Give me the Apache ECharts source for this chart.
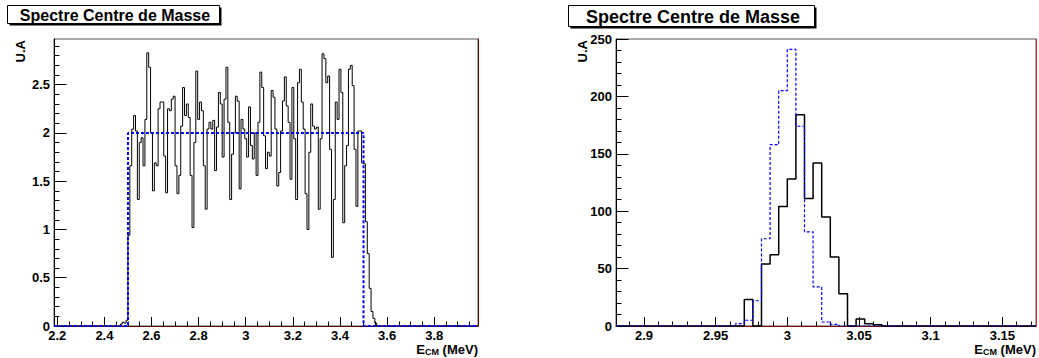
<!DOCTYPE html>
<html><head><meta charset="utf-8">
<script src="https://cdn.jsdelivr.net/npm/echarts@6/dist/echarts.min.js"></script>
<style>html,body{margin:0;padding:0;background:#fff}#c{width:1039px;height:358px}</style>
</head><body><div id="c"></div>
<script>
// ---------- texts ----------
const titleText = 'Spectre Centre de Masse';
const yTitle = 'U.A';
const xTitleRich = '{e|E}{s|CM}{e| (MeV)}';

// ---------- left panel ----------
const leftXRange = [2.186, 3.986];
const leftYMax = 2.973;
const leftXTicks = [2.2, 2.4, 2.6, 2.8, 3, 3.2, 3.4, 3.6, 3.8];
const leftYTicks = [0, 0.5, 1, 1.5, 2, 2.5];
const leftBinStart = 2.468;
const leftBinWidth = 0.008;
const leftCounts = [
  0.02, 0.04, 0.03, 0.06,
  0.94, 1.66, 2.04, 2.18, 2.02, 1.31, 1.90, 1.95, 1.66, 2.14,
  2.83, 2.68, 2.00, 1.40, 1.69, 1.66, 2.25, 2.32, 2.32, 1.76,
  1.38, 2.25, 2.23, 2.35, 2.38, 1.66, 1.37, 1.56, 2.07, 2.47,
  2.18, 2.30, 2.16, 1.56, 1.02, 1.90, 2.64, 2.14, 2.32, 2.23,
  1.66, 1.21, 2.04, 2.11, 2.04, 2.13, 1.61, 2.06, 2.42, 2.30,
  1.75, 2.35, 2.68, 2.11, 1.31, 1.78, 2.00, 2.38, 2.33,
  1.42, 2.14, 2.04, 1.94, 1.75, 2.27, 1.87, 1.73, 2.00, 1.56,
  2.11, 2.63, 2.47, 1.97, 1.63, 1.80, 1.76, 2.44, 2.37, 2.04,
  1.45, 1.59, 2.02, 2.33, 2.58, 2.28, 2.11, 1.52, 2.47, 1.94,
  1.31, 2.52, 2.66, 2.32, 2.04, 1.37, 1.00, 1.80, 2.30, 2.07,
  2.04, 2.06, 1.21, 1.94, 2.82, 2.77, 2.52, 2.59, 1.83, 0.71,
  1.31, 2.32, 2.14, 2.66, 2.42, 1.07, 1.66, 1.87, 2.66, 2.70,
  2.49, 1.83, 1.24, 2.02, 2.02, 1.69,
  1.68, 1.08, 0.75, 0.39, 0.15, 0.08, 0.03
];
const leftBlueEdges = [2.5, 3.5];
const leftBlueLevel = 2;

// ---------- right panel ----------
const rightXRange = [2.8805, 3.1735];
const rightYMax = 250;
const rightXTicks = [2.9, 2.95, 3, 3.05, 3.1, 3.15];
const rightYTicks = [0, 50, 100, 150, 200, 250];
const rightBinWidth = 0.006;
const rightBlackStart = 2.970;
const rightBlack = [23, 0, 54, 62, 104, 128, 184, 111, 142, 95, 60, 28, 0, 6, 2, 1];
const rightBlueStart = 2.964;
const rightBlue = [2, 5, 22, 76, 158, 205, 241, 174, 82, 34, 3.5, 1.5];

// ---------- helpers ----------
function r(v) { return Math.round(v * 1e6) / 1e6; }
function stepPoints(start, w, counts, range) {
  const pts = [[range[0], 0], [start, 0]];
  counts.forEach((c, i) => {
    const x0 = r(start + i * w), x1 = r(start + (i + 1) * w);
    pts.push([x0, c], [x1, c]);
  });
  pts.push([r(start + counts.length * w), 0], [range[1], 0]);
  return pts;
}
function minorValues(range, step, majors) {
  const out = [];
  const k0 = Math.ceil(range[0] / step - 1e-9), k1 = Math.floor(range[1] / step + 1e-9);
  for (let k = k0; k <= k1; k++) {
    const v = r(k * step);
    if (!majors.some(m => Math.abs(m - v) < step / 10) && v > range[0] && v < range[1]) out.push(v);
  }
  return out;
}
const FONT = 'Liberation Sans';
const lbl = { fontSize: 13, fontWeight: 'bold', color: '#000', fontFamily: FONT, lineHeight: 13 };

function xMajor(grid, range, ticks, lineColor) {
  return {
    type: 'value', gridIndex: grid, min: range[0], max: range[1], position: 'bottom',
    axisLine: { show: true, onZero: false, lineStyle: { color: lineColor, width: 1 } },
    axisTick: { show: true, inside: true, length: 9, customValues: ticks, lineStyle: { color: '#000', width: 1 } },
    axisLabel: Object.assign({ customValues: ticks, margin: 3 }, lbl),
    splitLine: { show: false },
    name: xTitleRich, nameLocation: 'end', nameGap: 0, nameMoveOverlap: false,
    nameTextStyle: {
      align: 'right', verticalAlign: 'top', padding: [17, 0, 0, 0],
      rich: {
        e: { fontSize: 13, fontWeight: 'bold', fontFamily: FONT, color: '#000', lineHeight: 13 },
        s: { fontSize: 9, fontWeight: 'bold', fontFamily: FONT, color: '#000', lineHeight: 8, verticalAlign: 'bottom' }
      }
    }
  };
}
function xMinor(grid, range, vals) {
  return {
    type: 'value', gridIndex: grid, min: range[0], max: range[1], position: 'bottom',
    axisLine: { show: false }, axisLabel: { show: false }, splitLine: { show: false },
    axisTick: { show: true, inside: true, length: 4.5, customValues: vals, lineStyle: { color: '#000', width: 1 } }
  };
}
function yMajor(grid, max, ticks) {
  return {
    type: 'value', gridIndex: grid, min: 0, max: max, position: 'left',
    axisLine: { show: true, onZero: false, lineStyle: { color: '#000', width: 1 } },
    axisTick: { show: true, inside: true, length: 12.5, customValues: ticks, lineStyle: { color: '#000', width: 1 } },
    axisLabel: Object.assign({ customValues: ticks, margin: 4 }, lbl),
    splitLine: { show: false },
    name: yTitle, nameLocation: 'end', nameRotate: 90, nameGap: -1, nameMoveOverlap: false,
    nameTextStyle: { fontSize: 13, fontWeight: 'bold', fontFamily: FONT, color: '#000',
      align: 'right', verticalAlign: 'bottom', lineHeight: 14, padding: [0, 0, 27, 0] }
  };
}
function yMinor(grid, max, vals) {
  return {
    type: 'value', gridIndex: grid, min: 0, max: max, position: 'left',
    axisLine: { show: false }, axisLabel: { show: false }, splitLine: { show: false },
    axisTick: { show: true, inside: true, length: 5.5, customValues: vals, lineStyle: { color: '#000', width: 1 } }
  };
}
function yFrame(grid, max, color) {
  return {
    type: 'value', gridIndex: grid, min: 0, max: max, position: 'right',
    axisLine: { show: true, onZero: false, lineStyle: { color: color, width: 1 } },
    axisTick: { show: false }, axisLabel: { show: false }, splitLine: { show: false }
  };
}

const leftXMinor = minorValues(leftXRange, 0.05, leftXTicks);
const leftYMinor = minorValues([0, leftYMax], 0.1, leftYTicks);
const rightXMinor = minorValues(rightXRange, 0.01, rightXTicks);
const rightYMinor = minorValues([0, rightYMax], 10, rightYTicks);

const leftBlack = stepPoints(leftBinStart, leftBinWidth, leftCounts, leftXRange);
const leftBlue = [[leftXRange[0], 0], [leftBlueEdges[0], 0], [leftBlueEdges[0], leftBlueLevel],
                  [leftBlueEdges[1], leftBlueLevel], [leftBlueEdges[1], 0], [leftXRange[1], 0]];
const rightBlackPts = stepPoints(rightBlackStart, rightBinWidth, rightBlack, rightXRange);
const rightBluePts = stepPoints(rightBlueStart, rightBinWidth, rightBlue, rightXRange);

function titleBox(x, y, w, h, fs, cx, cy) {
  return [
    { type: 'rect', shape: { x: x + 2, y: y + 2, width: w, height: h }, style: { fill: '#000' }, z: 100 },
    { type: 'rect', shape: { x: x, y: y, width: w, height: h }, style: { fill: '#fff', stroke: '#000', lineWidth: 1 }, z: 101 },
    { type: 'text', x: cx, y: cy, z: 102, style: { text: titleText, fill: '#000',
      font: 'bold ' + fs + 'px "' + FONT + '"', align: 'center', verticalAlign: 'middle' } }
  ];
}

const chart = echarts.init(document.getElementById('c'), null, { renderer: 'svg' });
chart.setOption({
  animation: false,
  backgroundColor: '#fff',
  grid: [
    { left: 54, top: 39, width: 424, height: 287, show: true, borderColor: '#555', borderWidth: 1, backgroundColor: 'transparent' },
    { left: 616, top: 39, width: 422, height: 287, show: true, borderColor: '#555', borderWidth: 1, backgroundColor: 'transparent' }
  ],
  xAxis: [
    xMajor(0, leftXRange, leftXTicks, '#5a0000'),
    xMinor(0, leftXRange, leftXMinor),
    xMajor(1, rightXRange, rightXTicks, '#7a0000'),
    xMinor(1, rightXRange, rightXMinor)
  ],
  yAxis: [
    yMajor(0, leftYMax, leftYTicks),
    yMinor(0, leftYMax, leftYMinor),
    yFrame(0, leftYMax, '#5a0000'),
    yMajor(1, rightYMax, rightYTicks),
    yMinor(1, rightYMax, rightYMinor),
    yFrame(1, rightYMax, '#d03030')
  ],
  graphic: [].concat(
    titleBox(7.5, 5.5, 212, 18, 16, 115, 15),
    titleBox(568.5, 5.5, 246, 21, 18, 693, 16.5)
  ),
  series: [
    { type: 'line', xAxisIndex: 0, yAxisIndex: 0, data: leftBlack, symbol: 'none', z: 2,
      lineStyle: { color: '#000', width: 1 } },
    { type: 'line', xAxisIndex: 0, yAxisIndex: 0, data: leftBlue, symbol: 'none', z: 3,
      lineStyle: { color: '#0000ff', width: 2, type: [3, 2] } },
    { type: 'line', xAxisIndex: 2, yAxisIndex: 3, data: rightBlackPts, symbol: 'none', z: 2,
      lineStyle: { color: '#000', width: 1.5 } },
    { type: 'line', xAxisIndex: 2, yAxisIndex: 3, data: rightBluePts, symbol: 'none', z: 3,
      lineStyle: { color: '#0000ff', width: 1.2, type: [3, 2] } }
  ]
});
</script>
</body></html>
